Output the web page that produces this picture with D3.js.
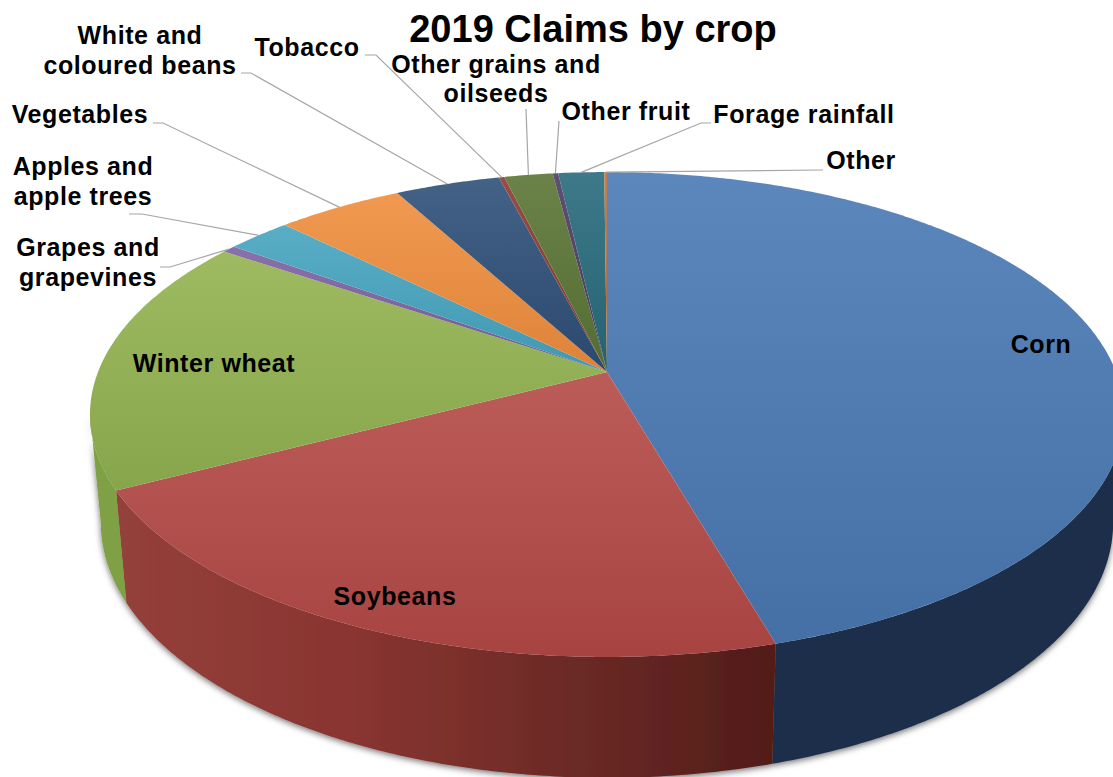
<!DOCTYPE html>
<html>
<head>
<meta charset="utf-8">
<script src="https://cdn.jsdelivr.net/npm/d3@7/dist/d3.min.js"></script>
<style>
  html, body { margin: 0; padding: 0; background: #fff; overflow: hidden; }
  svg { display: block; }
  text { font-family: "Liberation Sans", Arial, sans-serif; font-weight: 700; fill: #000; }
</style>
</head>
<body>
<svg id="chart" width="1113" height="777"></svg>
<script>
// Share of 2019 claims, in percent, clockwise from twelve o'clock.
const crops = ["Corn", "Soybeans", "Winter wheat", "Grapes and grapevines", "Apples and apple trees",
  "Vegetables", "White and coloured beans", "Tobacco", "Other grains and oilseeds",
  "Other fruit", "Forage rainfall", "Other"];
const claimShare = [45.6, 21.8, 17.2, 0.5, 2.4, 4.7, 3.9, 0.2, 1.8, 0.2, 1.7, 0.1];
const sliceColors = ["#4a7ab4", "#b54a47", "#93b350", "#7c62a0", "#46a5c0", "#f08e3e",
  "#2f4f78", "#8a3a30", "#5a7535", "#4d3b62", "#276a7c", "#c0703a"];
const chartTitle = "2019 Claims by crop";

// Label placement: text lines with their centre and baselines, then the leader's fixed points.
const labelLayout = [
  { lines: ["Corn"], x: 1041, y: [353] },
  { lines: ["Soybeans"], x: 395, y: [605] },
  { lines: ["Winter wheat"], x: 214, y: [372] },
  { lines: ["Grapes and", "grapevines"], x: 88, y: [256, 286], leader: [[160, 267], [170, 267]] },
  { lines: ["Apples and", "apple trees"], x: 83, y: [175, 205], leader: [[129, 214], [142, 214]] },
  { lines: ["Vegetables"], x: 80, y: [123], leader: [[153, 123], [163, 123]] },
  { lines: ["White and", "coloured beans"], x: 140, y: [44, 74], leader: [[241, 73], [251, 73]] },
  { lines: ["Tobacco"], x: 307, y: [56], leader: [[365, 55], [376, 55]] },
  { lines: ["Other grains and", "oilseeds"], x: 496, y: [73, 102], leader: [[526, 109]] },
  { lines: ["Other fruit"], x: 626, y: [120], leader: [[559, 121]] },
  { lines: ["Forage rainfall"], x: 804, y: [123], leader: [[711, 123], [701, 123]] },
  { lines: ["Other"], x: 861, y: [169], leader: [[823, 170]] }
];

const svg = d3.select("#chart");
const defs = svg.append("defs");

// Tilted disc: a unit circle seen in perspective, apex and rim fixed by these constants.
const apex = { x: 607, y: 372 };
const tilt = 0.1753, scaleX = 509, scaleY = 235;
function top3d(a) {
  const ux = Math.sin(a), uy = -Math.cos(a), w = 1 - tilt * uy;
  return [apex.x + scaleX * ux / w, apex.y + scaleY * uy / w];
}
// Lower rim of the disc's wall.
function base3d(a) {
  const [x, y] = top3d(a);
  return [apex.x + 0.979 * (x - apex.x), 478 + 1.052 * (y - apex.y)];
}
const rimStep = Math.PI / 360;
function rimAngles(a0, a1) {
  const n = Math.max(2, Math.ceil((a1 - a0) / rimStep));
  return d3.range(n + 1).map(i => a0 + (a1 - a0) * i / n);
}

const pieLayout = d3.pie().sort(null).value(d => d).startAngle(0).endAngle(2 * Math.PI);
const arcs = pieLayout(claimShare);
const outline = d3.line();

// Lit top surface: each slice has its own top-to-bottom gradient.
arcs.forEach((d, i) => {
  const g = defs.append("linearGradient").attr("id", `face${i}`)
    .attr("x1", 0).attr("y1", 0).attr("x2", 0).attr("y2", 1);
  g.append("stop").attr("offset", 0).attr("stop-color", d3.interpolateRgb(sliceColors[i], "#fff")(0.1));
  g.append("stop").attr("offset", 1).attr("stop-color", d3.interpolateRgb(sliceColors[i], "#000")(0.08));
});

// Wall shading runs left to right along the soybean section.
const soyWall = defs.append("linearGradient").attr("id", "wallSoy")
  .attr("gradientUnits", "userSpaceOnUse").attr("x1", 116).attr("y1", 0).attr("x2", 771).attr("y2", 0);
[[0, "#94403b"], [0.35, "#8a3531"], [0.7, "#6b2a26"], [1, "#521c19"]].forEach(([o, c]) =>
  soyWall.append("stop").attr("offset", o).attr("stop-color", c));
const wallFill = ["#1c2f48", "url(#wallSoy)", "#7fa045"];

const shadow = defs.append("filter").attr("id", "wallShadow")
  .attr("x", "-5%").attr("y", "-5%").attr("width", "110%").attr("height", "110%");
shadow.append("feDropShadow").attr("dx", 0).attr("dy", 2).attr("stdDeviation", 3)
  .attr("flood-color", "#000").attr("flood-opacity", 0.55);

// The wall shows between the two silhouette angles of the tilted rim.
const silhouette = Math.acos(-tilt);
const wallArcs = arcs.slice(0, 3).map((d, i) => ({
  a0: Math.max(d.startAngle, silhouette),
  a1: Math.min(d.endAngle, 2 * Math.PI - silhouette),
  fill: wallFill[i]
}));
svg.append("g").attr("filter", "url(#wallShadow)")
  .selectAll("path").data(wallArcs).join("path")
  .attr("d", w => {
    const angles = rimAngles(w.a0, w.a1);
    return outline([...angles.map(top3d), ...angles.slice().reverse().map(base3d)]) + "Z";
  })
  .attr("fill", w => w.fill);

svg.append("g").selectAll("path").data(arcs).join("path")
  .attr("d", d => outline([[apex.x, apex.y], ...rimAngles(d.startAngle, d.endAngle).map(top3d)]) + "Z")
  .attr("fill", (d, i) => `url(#face${i})`);

// Leader lines run from each outside label to the middle of its slice's rim.
svg.append("g").selectAll("path")
  .data(arcs.map((d, i) => ({ d, layout: labelLayout[i] })).filter(e => e.layout.leader))
  .join("path")
  .attr("d", e => outline([...e.layout.leader, top3d((e.d.startAngle + e.d.endAngle) / 2)]))
  .attr("fill", "none").attr("stroke", "#a6a6a6").attr("stroke-width", 1.2);

const labels = svg.append("g").attr("font-size", 25).attr("text-anchor", "middle")
  .attr("letter-spacing", 0.6);
labelLayout.forEach((l, i) => {
  const t = labels.append("text").attr("aria-label", crops[i]);
  l.lines.forEach((line, j) => t.append("tspan").attr("x", l.x).attr("y", l.y[j]).text(line));
});

svg.append("text").attr("x", 593).attr("y", 42).attr("text-anchor", "middle")
  .attr("font-size", 38).text(chartTitle);
</script>
</body>
</html>
